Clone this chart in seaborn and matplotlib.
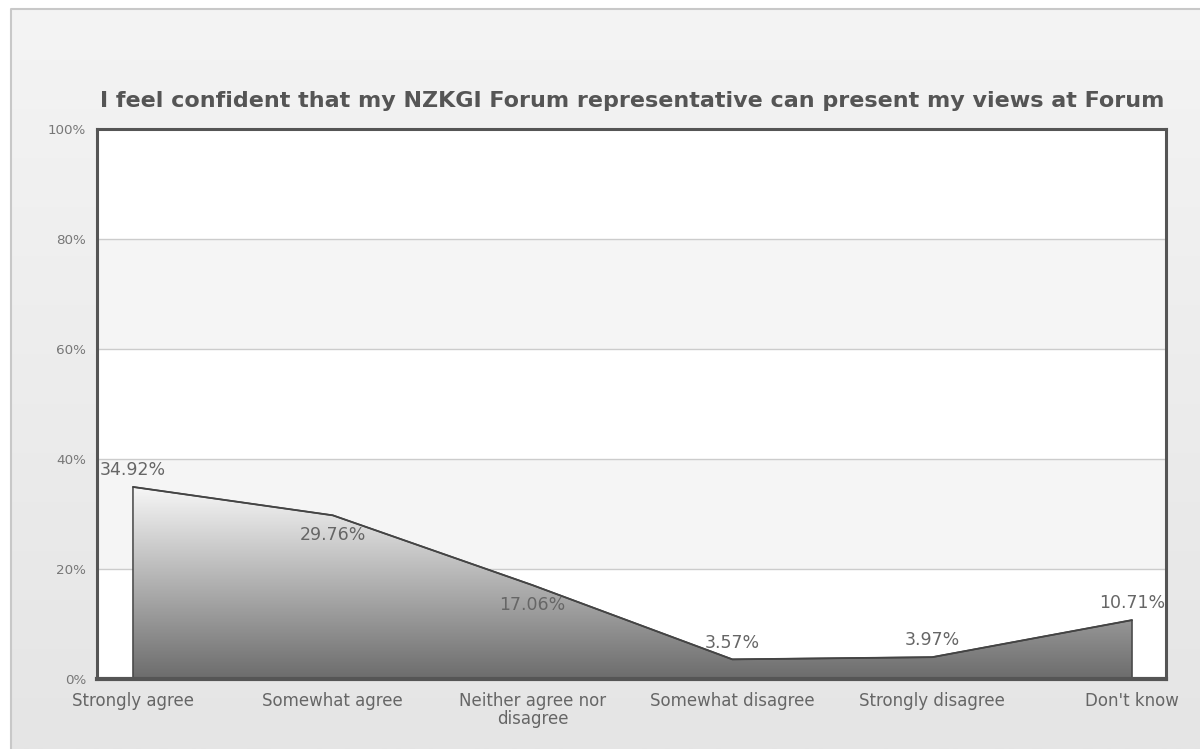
import numpy as np
import pandas as pd
import matplotlib
matplotlib.use("Agg")
import matplotlib.pyplot as plt
from matplotlib.colors import LinearSegmentedColormap
import seaborn as sns

# data
categories = ["Strongly agree", "Somewhat agree", "Neither agree nor\ndisagree",
              "Somewhat disagree", "Strongly disagree", "Don't know"]
percentages = [34.92, 29.76, 17.06, 3.57, 3.97, 10.71]
# where each value label sits: above (+1) or below (-1) its point
label_side = [1, -1, -1, 1, 1, 1]
y_ticks = [0, 20, 40, 60, 80, 100]
title = "I feel confident that my NZKGI Forum representative can present my views at Forum"

df = pd.DataFrame({"pos": range(len(categories)), "pct": percentages})

sns.set_theme(style="white")
plt.rcParams["font.family"] = ["DejaVu Sans"]

fig = plt.figure(figsize=(12, 7.49), dpi=100)

# page background: white margin, framed panel with soft vertical gradient
bg = fig.add_axes([0, 0, 1, 1], zorder=-10)
bg.set_xlim(0, 1200)
bg.set_ylim(749, 0)
bg.axis("off")
bg_cmap = LinearSegmentedColormap.from_list("bg", ["#f4f4f4", "#e5e5e5"])
bg.imshow(np.linspace(0, 1, 256).reshape(-1, 1), cmap=bg_cmap, aspect="auto",
          extent=[11, 1200, 749, 9], zorder=0)
bg.plot([11, 11, 1200], [749, 9, 9], color="#c8c8c8", lw=1.5, zorder=1)

ax = fig.add_axes([97 / 1200, 70 / 749, 1069 / 1200, 550 / 749])
ax.set_xlim(-0.18, 5.17)
ax.set_ylim(0, 100)

# alternating horizontal bands
for i, (lo, hi) in enumerate(zip(y_ticks[:-1], y_ticks[1:])):
    ax.axhspan(lo, hi, color="#ffffff" if i % 2 == 0 else "#f5f5f5", zorder=0, lw=0)
for t in y_ticks[1:-1]:
    ax.axhline(t, color="#cccccc", lw=1, zorder=1)

# gradient filled area, clipped to the polygon under the line
poly = ax.fill_between(df["pos"], df["pct"], 0, facecolor="none",
                       edgecolor="#444444", lw=1.1, zorder=3)
area_cmap = LinearSegmentedColormap.from_list("area", ["#6c6c6c", "#f7f7f7"])
top = max(percentages)
grad = ax.imshow(np.linspace(0, 1, 256).reshape(-1, 1), cmap=area_cmap,
                 origin="lower", aspect="auto",
                 extent=[df["pos"].min(), df["pos"].max(), 0, top], zorder=2)
grad.set_clip_path(poly.get_paths()[0], transform=ax.transData)

sns.lineplot(data=df, x="pos", y="pct", ax=ax, color="#444444", lw=1.3,
             zorder=4, legend=False)

for x, y, side in zip(df["pos"], df["pct"], label_side):
    ax.annotate(f"{y:.2f}%", (x, y), xytext=(0, 12 if side > 0 else -14),
                textcoords="offset points", ha="center", va="center",
                fontsize=12.5, color="#666666", zorder=5)

ax.set_xticks(df["pos"])
ax.set_xticklabels(categories, fontsize=12, color="#666666", linespacing=1.05)
ax.set_yticks(y_ticks)
ax.set_yticklabels([f"{t}%" for t in y_ticks], fontsize=9.7, color="#777777")
ax.tick_params(axis="both", length=0)
ax.tick_params(axis="x", pad=9)
ax.tick_params(axis="y", pad=8)
ax.set_xlabel("")
ax.set_ylabel("")

for side, sp in ax.spines.items():
    sp.set_visible(True)
    sp.set_color("#555555")
    sp.set_linewidth(2.2)
    sp.set_zorder(6)
ax.spines["bottom"].set_linewidth(3)

fig.text(632 / 1200, 1 - 101 / 749, title, ha="center", va="center",
         fontsize=16, fontweight="bold", color="#555555")

fig.savefig("out.png", dpi=100)
plt.close(fig)
